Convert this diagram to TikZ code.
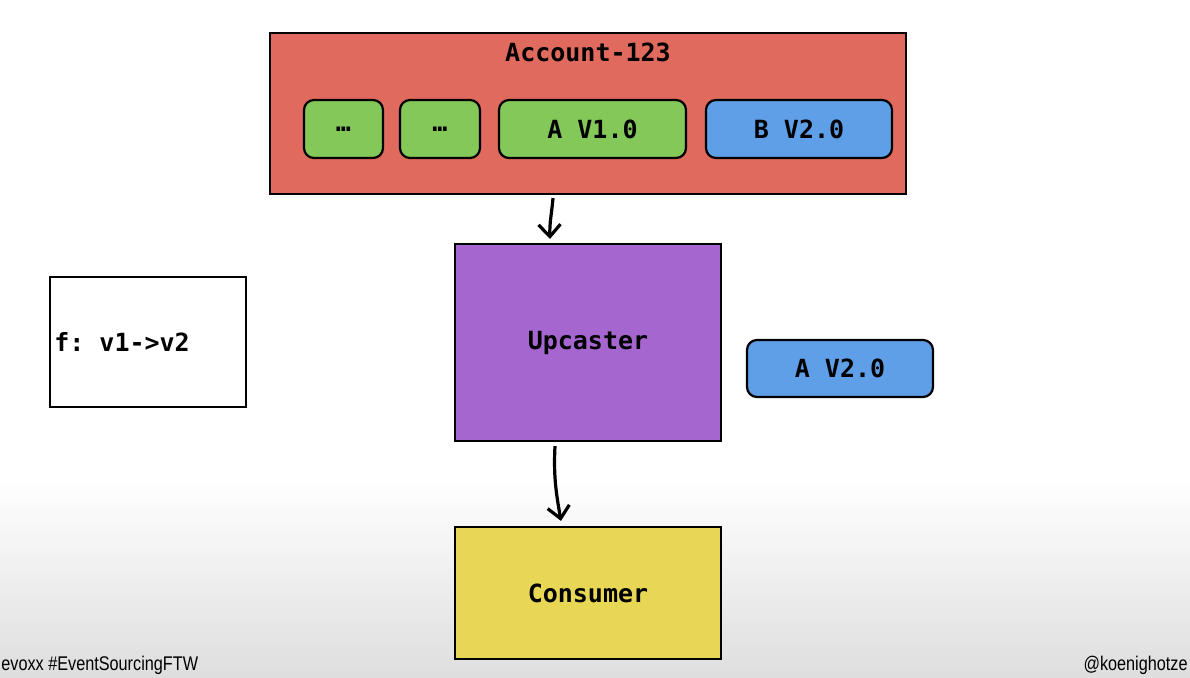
\documentclass[tikz,border=0pt]{standalone}
\usepackage{fontspec}
\setmonofont{DejaVu Sans Mono}
\newfontfamily\footfont[FakeStretch=0.82]{Liberation Sans}
\usetikzlibrary{arrows.meta}
\definecolor{acctred}{HTML}{E06A5E}
\definecolor{evgreen}{HTML}{84C85A}
\definecolor{evblue}{HTML}{5F9FE8}
\definecolor{uppurple}{HTML}{A566D0}
\definecolor{consyellow}{HTML}{E8D755}
\tikzset{
  lbl/.style={font=\ttfamily\bfseries\fontsize{12.5}{15}\selectfont},
  box/.style={draw, line width=1.1pt, lbl, inner sep=0pt},
  evt/.style={box, rounded corners=5pt, minimum height=29pt},
  arr/.style={-{Straight Barb[length=6pt,width=11pt,line width=1.6pt]}, line width=1.6pt},
  foot/.style={font=\footfont\fontsize{9.9}{11}\selectfont, inner sep=0pt}
}
\begin{document}
\begin{tikzpicture}[x=0.5pt,y=-0.5pt]
  \fill[white] (0,0) rectangle (1190,677);
  \shade[top color=white, bottom color=black!13] (0,480) rectangle (1190,677);
  \useasboundingbox (0,0) rectangle (1190,677);
  % stream of events
  \node (acct) at (588,113.5) [box, fill=acctred, minimum width=318pt, minimum height=80.5pt] {};
  \node (acctname) at (588,52) [lbl] {Account-123};
  \node (dots1) at (343.5,129) [evt, fill=evgreen, minimum width=39.5pt] {…};
  \node (dots2) at (440,129) [evt, fill=evgreen, minimum width=40pt] {…};
  \node (av1) at (592.5,129) [evt, fill=evgreen, minimum width=93.5pt] {A V1.0};
  \node (bv2) at (799,129) [evt, fill=evblue, minimum width=93pt] {B V2.0};
  \node (up) at (588,342.5) [box, fill=uppurple, minimum width=133pt, minimum height=98.5pt] {Upcaster};
  \node (av2) at (840,368.5) [evt, fill=evblue, minimum width=93pt, minimum height=28.5pt] {A V2.0};
  \node (fbox) at (148,342) [box, fill=white, minimum width=98pt, minimum height=65pt] {};
  \node (ftext) at ([xshift=2.5pt]fbox.west) [lbl, anchor=west, inner sep=0pt] {f: v1->v2};
  \node (cons) at (588,593) [box, fill=consyellow, minimum width=133pt, minimum height=66pt] {Consumer};
  \draw[arr] ([xshift=-17.5pt,yshift=-1.5pt]acct.south) to[out=-95,in=92] ([xshift=-19pt,yshift=2pt]up.north);
  \draw[arr] ([xshift=-16.5pt,yshift=-2pt]up.south) to[out=-93,in=100] ([xshift=-13.5pt,yshift=2.5pt]cons.north);
  \node (tag) at (1,670) [foot, anchor=base west] {evoxx \#EventSourcingFTW};
  \node (handle) at (1188,670) [foot, anchor=base east] {@koenighotze};
\end{tikzpicture}
\end{document}
